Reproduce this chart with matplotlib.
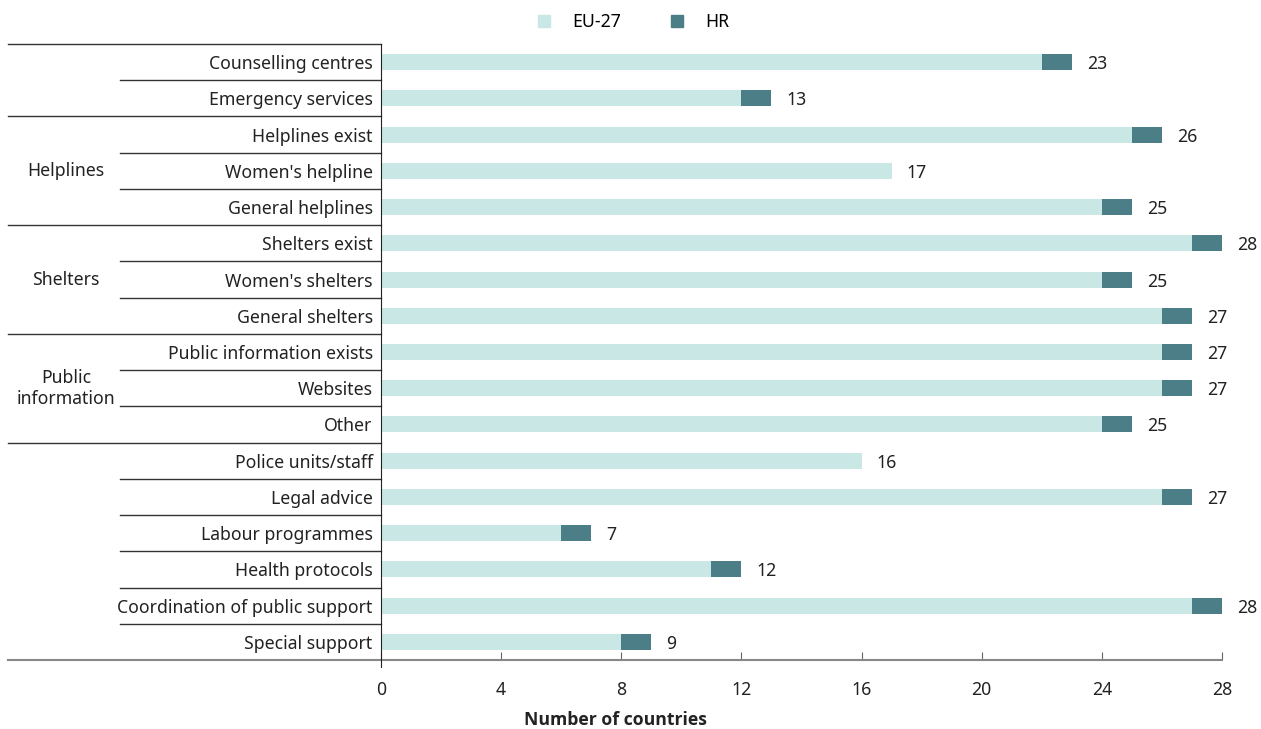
import matplotlib.pyplot as plt
import matplotlib.transforms as mtransforms
from matplotlib.lines import Line2D
import numpy as np

plt.rcParams['font.family'] = ['Noto Sans', 'DejaVu Sans']

categories = ['Counselling centres', 'Emergency services', 'Helplines exist',
              "Women's helpline", 'General helplines', 'Shelters exist',
              "Women's shelters", 'General shelters', 'Public information exists',
              'Websites', 'Other', 'Police units/staff', 'Legal advice',
              'Labour programmes', 'Health protocols',
              'Coordination of public support', 'Special support']
eu27 = [22, 12, 25, 17, 24, 27, 24, 26, 26, 26, 24, 16, 26, 6, 11, 27, 8]
hr = [1, 1, 1, 0, 1, 1, 1, 1, 1, 1, 1, 0, 1, 1, 1, 1, 1]
groups = ['', 'Helplines', 'Shelters', 'Public\ninformation', '']
group_sizes = [2, 3, 3, 3, 6]
xticks = [0, 4, 8, 12, 16, 20, 24, 28]

c_eu = '#c9e8e5'
c_hr = '#4b7e86'
W, H = 1261, 729
fs = 12.7

fig = plt.figure(figsize=(W / 100, H / 100), dpi=100)
ax = fig.add_axes([381 / W, (H - 660) / H, (1222 - 381) / W, 616 / H])

y = np.arange(len(categories))
eu27 = np.array(eu27)
hr = np.array(hr)
ax.barh(y, eu27, height=0.44, color=c_eu)
ax.barh(y, hr, left=eu27, height=0.44, color=c_hr)
for yi, tot in zip(y, eu27 + hr):
    ax.text(tot + 0.5, yi, str(tot), va='center_baseline', ha='left', fontsize=fs,
            color='#222222')

ax.set_ylim(len(categories) - 0.5, -0.5)
ax.set_xlim(0, 28)
ax.set_yticks(y)
ax.set_yticklabels(categories, fontsize=fs, color='#222222', va='center_baseline')
ax.tick_params(axis='y', length=0, pad=6)
ax.set_xticks(xticks)
ax.tick_params(axis='x', direction='in', length=6, color='#666666', labelsize=fs,
               labelcolor='#222222', pad=15)
for s in ['top', 'right']:
    ax.spines[s].set_visible(False)
ax.spines['left'].set_color('#222222')
ax.spines['left'].set_bounds(len(categories) - 0.3, -0.5)
ax.spines['bottom'].set_visible(False)

# separators in the label area
tr = mtransforms.blended_transform_factory(fig.transFigure, ax.transData)
x_long, x_short, x_ax = 8 / W, 120 / W, 381 / W
bounds = np.cumsum([0] + group_sizes) - 0.5
for b in bounds[:-1]:
    ax.plot([x_long, x_ax], [b, b], transform=tr, color='#333333', lw=1, clip_on=False)
ax.plot([x_long, 1222 / W], [bounds[-1], bounds[-1]], transform=tr, color='#888888',
        lw=1.5, clip_on=False)
for start, n in zip(bounds[:-1], group_sizes):
    for k in range(1, n):
        ax.plot([x_short, x_ax], [start + k, start + k], transform=tr, color='#333333',
                lw=1, clip_on=False)
for start, n, g in zip(bounds[:-1], group_sizes, groups):
    if g:
        ax.text(66 / W, start + n / 2, g, transform=tr, ha='center', va='center',
                fontsize=fs, color='#222222', linespacing=1.2)

handles = [Line2D([], [], marker='s', ls='', markersize=9, color=c_eu),
           Line2D([], [], marker='s', ls='', markersize=9, color=c_hr)]
fig.legend(handles, ['EU-27', 'HR'], loc='center', bbox_to_anchor=(628 / W, 1 - 22 / H),
           ncol=2, frameon=False, fontsize=fs, handletextpad=0.6, columnspacing=2.2)

fig.text(615 / W, 1 - 720 / H, 'Number of countries', ha='center', va='center',
         fontsize=fs, fontweight='bold', color='#222222',
         family=['Open Sans', 'DejaVu Sans'])

fig.savefig('out.png', dpi=100)
